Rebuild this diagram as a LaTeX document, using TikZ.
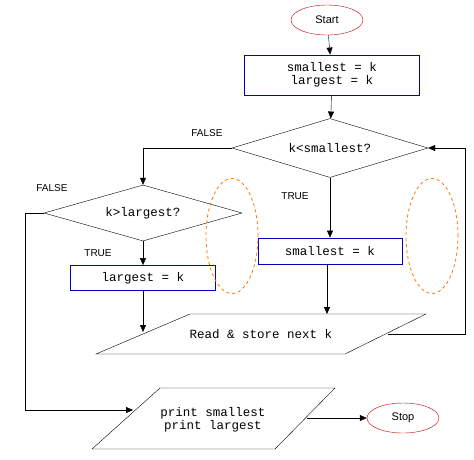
\documentclass[tikz,border=0pt]{standalone}
\usepackage{fontspec}
\setmainfont{Liberation Sans}
\newfontfamily\mono{Liberation Mono}
\usetikzlibrary{shapes.geometric,arrows.meta}
\begin{document}
\begin{tikzpicture}[x=1pt,y=-1pt,
  term/.style={ellipse,draw=red!80!black,minimum width=72,minimum height=30,inner sep=0pt,font=\fontsize{11}{12}\selectfont},
  proc/.style={draw=blue!75!black,thick,inner sep=0pt,font=\mono\fontsize{12.5}{13}\selectfont},
  dec/.style={diamond,draw,inner sep=0pt,aspect=3.4,font=\mono\fontsize{12.5}{13}\selectfont},
  lbl/.style={font=\fontsize{10}{11}\selectfont},
  io/.style={font=\mono\fontsize{12.5}{13}\selectfont,align=center},
  arr/.style={draw,-{Triangle[length=7pt,width=6pt]}},
  loop/.style={draw=orange!90!red,dashed,thick,ellipse,minimum width=52,minimum height=115}]
\useasboundingbox (0,0) rectangle (474,459);
\node[term] (start) at (327,20) {Start};
\node[proc,minimum width=175,minimum height=40,align=center] (init) at (332,75) {smallest = k\\largest = k};
\node[dec,minimum width=196,minimum height=59] (d1) at (330,148) {k<smallest?};
\node[dec,minimum width=198,minimum height=56] (d2) at (143,213) {k>largest?};
\node[proc,minimum width=145,minimum height=25] (lg) at (143,278) {largest = k};
\node[proc,minimum width=144,minimum height=26] (sm) at (330,251) {smallest = k};
\draw (190,314) -- (426,314) -- (345,354) -- (96,354) -- cycle;
\node[io] (rd) at (261,334) {Read \& store next k};
\draw (160,388) -- (335,388) -- (275,449) -- (92,449) -- cycle;
\node[io,font=\mono\fontsize{12.5}{11}\selectfont] (pr) at (213,420) {print smallest\\print largest};
\node[term] (stop) at (403,418) {Stop};
\coordinate (rdin1) at (143,332);
\coordinate (rdin2) at (327,314);
\coordinate (rdout) at (388,334);
\coordinate (prin) at (133,410);
\coordinate (prout) at (307,418);
\node[loop] (l1) at (232,236) {};
\node[loop] (l2) at (432,236) {};
\node[lbl] (f1) at (207,133) {FALSE};
\node[lbl] (f2) at (52,188) {FALSE};
\node[lbl] (t1) at (295,196) {TRUE};
\node[lbl] (t2) at (98,253) {TRUE};
\draw[arr] (start) -- (init);
\draw[arr] (init) -- (d1);
\draw[arr] (d1.west) -| (d2.north);
\draw[arr] (d1.south) -- (sm.north);
\draw[arr] (d2.south) -- (lg.north);
\draw[arr] (d2.west) -- (25,213) |- (prin);
\draw[arr] (lg.south) -- (rdin1);
\draw[arr] (sm.south -| rdin2) -- (rdin2);
\draw[arr] (rdout) -- (465,334) |- (d1.east);
\draw[arr] (prout) -- (stop.west);
\end{tikzpicture}
\end{document}
